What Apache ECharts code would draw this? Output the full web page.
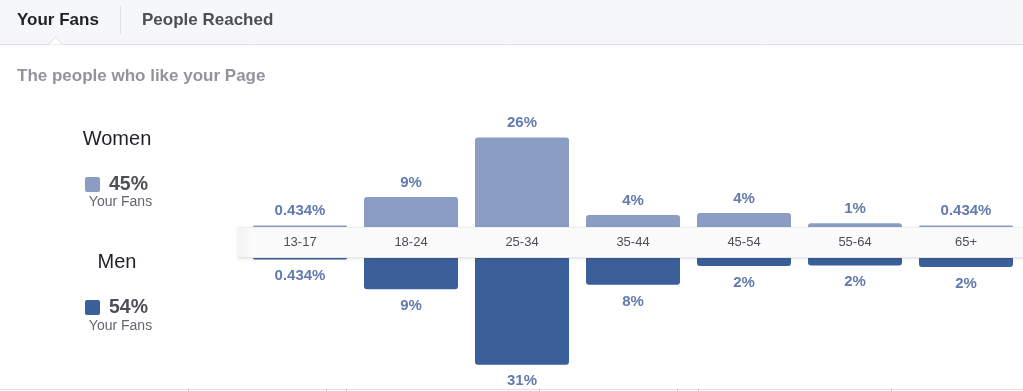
<!DOCTYPE html>
<html>
<head>
<meta charset="utf-8">
<script src="https://cdn.jsdelivr.net/npm/echarts@6/dist/echarts.min.js"></script>
<style>
html,body{margin:0;padding:0;background:#fff;}
#c{width:1023px;height:391px;}
</style>
</head>
<body>
<div id="c"></div>
<script>
const categories = ['13-17', '18-24', '25-34', '35-44', '45-54', '55-64', '65+'];
const womenValues = [0.434, 8.7, 26, 3.5, 4.1, 1.1, 0.434];
const menValues = [0.434, 9.1, 31, 7.8, 2.3, 2.2, 2.6];
const womenLabels = ['0.434%', '9%', '26%', '4%', '4%', '1%', '0.434%'];
const menLabels = ['0.434%', '9%', '31%', '8%', '2%', '2%', '2%'];
const womenTotal = '45%';
const menTotal = '54%';

const FONT = '"Liberation Sans", Arial, sans-serif';
const labelStyle = {color: '#627aad', fontSize: 15, fontWeight: 'bold', fontFamily: FONT};

const chart = echarts.init(document.getElementById('c'), null, {renderer: 'canvas'});
const tickXs = [188, 326, 346, 539, 677, 698, 891];

chart.setOption({
  animation: false,
  backgroundColor: '#ffffff',
  grid: [
    {left: 244.5, width: 777, top: 103, height: 124},
    {left: 244.5, width: 777, top: 258, height: 124}
  ],
  xAxis: [
    {gridIndex: 0, type: 'category', data: categories, position: 'bottom', z: 30,
     axisLine: {show: false}, axisTick: {show: false},
     axisLabel: {margin: 9, color: '#4b4f56', fontSize: 13, fontFamily: FONT}},
    {gridIndex: 1, type: 'category', data: categories, position: 'top',
     axisLine: {show: false}, axisTick: {show: false}, axisLabel: {show: false}}
  ],
  yAxis: [
    {gridIndex: 0, type: 'value', min: 0, max: 36, show: false, splitLine: {show: false}},
    {gridIndex: 1, type: 'value', min: 0, max: 36, inverse: true, show: false, splitLine: {show: false}}
  ],
  series: [
    {name: 'Women', type: 'bar', xAxisIndex: 0, yAxisIndex: 0, data: womenValues, barWidth: 94,
     itemStyle: {color: '#8b9dc3', borderRadius: [3, 3, 0, 0]},
     label: Object.assign({show: true, position: 'top', distance: 7,
       formatter: p => womenLabels[p.dataIndex]}, labelStyle)},
    {name: 'Men', type: 'bar', xAxisIndex: 1, yAxisIndex: 1, data: menValues, barWidth: 94,
     itemStyle: {color: '#3b5f98', borderRadius: [0, 0, 3, 3]},
     label: Object.assign({show: true, position: 'bottom', distance: 9,
       formatter: p => menLabels[p.dataIndex]}, labelStyle)}
  ],
  graphic: [
    // header
    {type: 'rect', z: 1, shape: {x: 0, y: 0, width: 1023, height: 44}, style: {fill: '#f6f7f9'}},
    {type: 'line', z: 2, shape: {x1: 0, y1: 44.5, x2: 1023, y2: 44.5}, style: {stroke: '#dddfe2', lineWidth: 1}},
    {type: 'polygon', z: 3, shape: {points: [[48, 45], [55.5, 37], [63, 45]]}, style: {fill: '#ffffff', stroke: '#dddfe2', lineWidth: 1}},
    {type: 'rect', z: 4, shape: {x: 47, y: 45, width: 18, height: 2}, style: {fill: '#ffffff'}},
    {type: 'text', z: 5, x: 17, y: 20, style: {text: 'Your Fans', fill: '#1d2129', fontSize: 17, fontWeight: 'bold', fontFamily: FONT, textVerticalAlign: 'middle'}},
    {type: 'line', z: 5, shape: {x1: 120.5, y1: 6, x2: 120.5, y2: 34}, style: {stroke: '#dddfe2', lineWidth: 1}},
    {type: 'text', z: 5, x: 142, y: 20, style: {text: 'People Reached', fill: '#4b4f56', fontSize: 17, fontWeight: 'bold', fontFamily: FONT, textVerticalAlign: 'middle'}},
    {type: 'text', z: 5, x: 17, y: 76, style: {text: 'The people who like your Page', fill: '#90949c', fontSize: 17, fontWeight: 'bold', fontFamily: FONT, textVerticalAlign: 'middle'}},
    // legend block
    {type: 'text', z: 5, x: 117, y: 139, style: {text: 'Women', fill: '#1d2129', fontSize: 20, fontFamily: FONT, textAlign: 'center', textVerticalAlign: 'middle'}},
    {type: 'rect', z: 5, shape: {x: 85, y: 177, width: 15, height: 15, r: 2}, style: {fill: '#8b9dc3'}},
    {type: 'text', z: 5, x: 109, y: 184.5, style: {text: womenTotal, fill: '#4b4f56', fontSize: 19.5, fontWeight: 'bold', fontFamily: FONT, textVerticalAlign: 'middle'}},
    {type: 'text', z: 5, x: 120.5, y: 202, style: {text: 'Your Fans', fill: '#616770', fontSize: 14, fontFamily: FONT, textAlign: 'center', textVerticalAlign: 'middle'}},
    {type: 'text', z: 5, x: 117, y: 262, style: {text: 'Men', fill: '#1d2129', fontSize: 20, fontFamily: FONT, textAlign: 'center', textVerticalAlign: 'middle'}},
    {type: 'rect', z: 5, shape: {x: 85, y: 300, width: 15, height: 15, r: 2}, style: {fill: '#3b5f98'}},
    {type: 'text', z: 5, x: 109, y: 307.5, style: {text: menTotal, fill: '#4b4f56', fontSize: 19.5, fontWeight: 'bold', fontFamily: FONT, textVerticalAlign: 'middle'}},
    {type: 'text', z: 5, x: 120.5, y: 326, style: {text: 'Your Fans', fill: '#616770', fontSize: 14, fontFamily: FONT, textAlign: 'center', textVerticalAlign: 'middle'}},
    // category band
    {type: 'rect', z: 20, shape: {x: 238, y: 227, width: 790, height: 31},
     style: {fill: new echarts.graphic.LinearGradient(0, 0, 1, 0, [{offset: 0, color: '#f3f4f5'}, {offset: 0.02, color: '#fbfbfb'}, {offset: 1, color: '#fbfbfb'}]),
       shadowBlur: 3, shadowOffsetY: 1, shadowColor: 'rgba(0,0,0,0.10)'}},
    {type: 'line', z: 21, shape: {x1: 238, y1: 227.5, x2: 1023, y2: 227.5}, style: {stroke: '#eceef0', lineWidth: 1}},
    {type: 'line', z: 21, shape: {x1: 238, y1: 257.5, x2: 1023, y2: 257.5}, style: {stroke: '#e4e6e9', lineWidth: 1}},
    // bottom border
    {type: 'line', z: 5, shape: {x1: 0, y1: 389.5, x2: 1023, y2: 389.5}, style: {stroke: '#dddfe2', lineWidth: 1}}
  ].concat(tickXs.map(x => ({type: 'line', z: 5, shape: {x1: x + 0.5, y1: 389, x2: x + 0.5, y2: 391}, style: {stroke: '#c8cbd0', lineWidth: 1}})))
});
</script>
</body>
</html>
